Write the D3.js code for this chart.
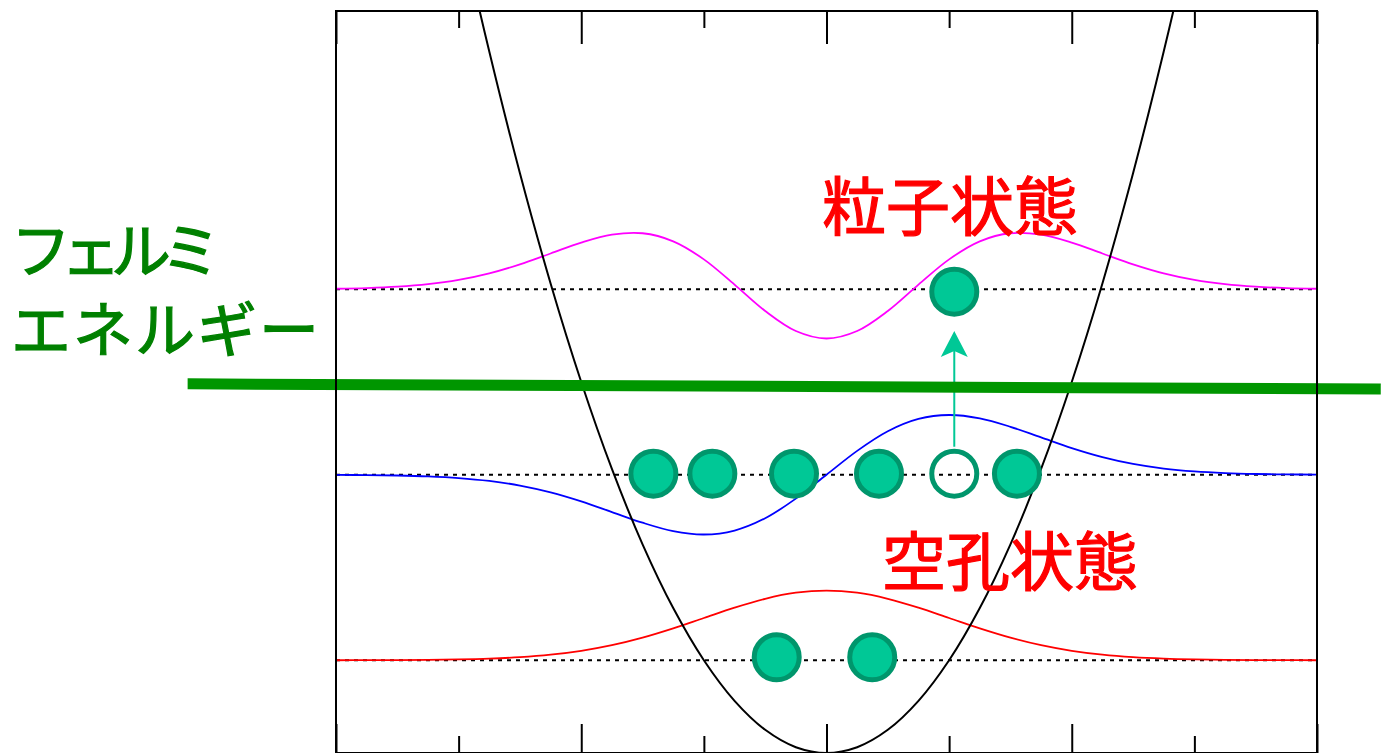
<!DOCTYPE html>
<html>
<head>
<meta charset="utf-8">
<script src="https://cdn.jsdelivr.net/npm/d3@7"></script>
<style>
  html, body { margin: 0; padding: 0; background: #fff; }
  svg { display: block; }
</style>
</head>
<body>
<svg id="chart" width="1381" height="753"></svg>
<script>
// ---------------- data ----------------
const xSamples = [-4,-3.75,-3.5,-3.25,-3,-2.75,-2.5,-2.25,-2,-1.75,-1.5,-1.25,-1,-0.75,-0.5,-0.25,0,
                  0.25,0.5,0.75,1,1.25,1.5,1.75,2,2.25,2.5,2.75,3,3.25,3.5,3.75,4];
const potential = [8,7.03125,6.125,5.28125,4.5,3.78125,3.125,2.53125,2,1.53125,1.125,0.78125,0.5,0.28125,0.125,0.03125,0,
                   0.03125,0.125,0.28125,0.5,0.78125,1.125,1.53125,2,2.53125,3.125,3.78125,4.5,5.28125,6.125,7.03125,8];
const levels = [0.5, 1.5, 2.5];
const wave0 = [0.0001,0.0003,0.0008,0.0019,0.0042,0.0086,0.0165,0.0299,0.0508,0.0812,0.1219,0.1719,0.2278,0.2835,0.3314,0.3640,0.3756,
               0.3640,0.3314,0.2835,0.2278,0.1719,0.1219,0.0812,0.0508,0.0299,0.0165,0.0086,0.0042,0.0019,0.0008,0.0003,0.0001];
const wave1 = [-0.0007,-0.0018,-0.0041,-0.0088,-0.0177,-0.0333,-0.0583,-0.0951,-0.1438,-0.2010,-0.2586,-0.3040,-0.3221,-0.3007,-0.2344,-0.1287,0,
               0.1287,0.2344,0.3007,0.3221,0.3040,0.2586,0.2010,0.1438,0.0951,0.0583,0.0333,0.0177,0.0088,0.0041,0.0018,0.0007];
const wave2 = [0.0028,0.0064,0.0137,0.0272,0.0502,0.0855,0.1342,0.1928,0.2516,0.2943,0.3018,0.2584,0.1611,0.0251,-0.1172,-0.2252,-0.2656,
               -0.2252,-0.1172,0.0251,0.1611,0.2584,0.3018,0.2943,0.2516,0.1928,0.1342,0.0855,0.0502,0.0272,0.0137,0.0064,0.0028];
const waveColors = ["#ff0000", "#0000ff", "#ff00ff"];
const majorTicks = [-4,-2,0,2,4];
const minorTicks = [-3,-1,1,3];
const fermiX = [-5.21, 4.52];
const fermiY = [1.99, 1.962];
const electronX = [-0.406, 0.373, -1.412, -0.931, -0.265, 0.428, 1.553, 1.042];
const electronY = [0.516, 0.516, 1.506, 1.506, 1.506, 1.506, 1.506, 2.487];
const holeX = [1.042];
const holeY = [1.506];
const arrowX = [1.042, 1.042];
const arrowY = [1.651, 2.275];
const fermiLabel = ["フェルミ", "エネルギー"];
const particleLabel = "粒子状態";
const holeLabel = "空孔状態";

// ---------------- layout ----------------
const svg = d3.select("#chart");
const pLeft = 336, pRight = 1317, pTop = 11, pBottom = 753;
const x = d3.scaleLinear().domain([-4, 4]).range([pLeft, pRight]);
const y = d3.scaleLinear().domain([0, 4]).range([pBottom, pTop]);

svg.append("defs").append("clipPath").attr("id", "plotClip")
  .append("rect").attr("x", pLeft).attr("y", pTop).attr("width", pRight - pLeft).attr("height", pBottom - pTop);

const plot = svg.append("g").attr("clip-path", "url(#plotClip)");

// dotted energy levels
plot.selectAll("line.level").data(levels).enter().append("line")
  .attr("class", "level")
  .attr("x1", x(-4)).attr("x2", x(4))
  .attr("y1", d => y(d)).attr("y2", d => y(d))
  .attr("stroke", "#000").attr("stroke-width", 2).attr("stroke-dasharray", "4,5");

// wave functions
const waves = [wave0, wave1, wave2];
const line = d3.line().x(d => x(d[0])).y(d => y(d[1])).curve(d3.curveCatmullRom.alpha(0.5));
waves.forEach((w, i) => {
  const pts = xSamples.map((xv, j) => [xv, levels[i] + w[j]]);
  plot.append("path").attr("d", line(pts)).attr("fill", "none")
    .attr("stroke", waveColors[i]).attr("stroke-width", 1.8);
});

// potential
plot.append("path").attr("d", line(xSamples.map((xv, j) => [xv, potential[j]])))
  .attr("fill", "none").attr("stroke", "#000").attr("stroke-width", 2);

// arrow (excitation)
const ax = x(arrowX[0]), ay0 = y(arrowY[0]), ay1 = y(arrowY[1]);
svg.append("line").attr("x1", ax).attr("x2", ax).attr("y1", ay0).attr("y2", ay1 + 18)
  .attr("stroke", "#00c896").attr("stroke-width", 2);
svg.append("path")
  .attr("d", `M${ax},${ay1} L${ax + 13.5},${ay1 + 26} L${ax},${ay1 + 20} L${ax - 13.5},${ay1 + 26} Z`)
  .attr("fill", "#00c896");

// Fermi level
svg.append("line")
  .attr("x1", x(fermiX[0])).attr("y1", y(fermiY[0]))
  .attr("x2", x(fermiX[1])).attr("y2", y(fermiY[1]))
  .attr("stroke", "#009600").attr("stroke-width", 11);

// frame + ticks
svg.append("rect").attr("x", pLeft).attr("y", pTop).attr("width", pRight - pLeft).attr("height", pBottom - pTop)
  .attr("fill", "none").attr("stroke", "#000").attr("stroke-width", 2);

function tickAxis(gen, vals, size, ty) {
  const g = svg.append("g").attr("transform", `translate(0,${ty})`)
    .call(gen(x).tickValues(vals).tickSizeInner(size).tickSizeOuter(0).tickFormat(""));
  g.select(".domain").remove();
  g.selectAll(".tick line").attr("stroke", "#000").attr("stroke-width", 2);
}
tickAxis(d3.axisTop, majorTicks, -33, pTop);
tickAxis(d3.axisTop, minorTicks, -17, pTop);
tickAxis(d3.axisBottom, majorTicks, -29, pBottom);
tickAxis(d3.axisBottom, minorTicks, -17, pBottom);

// electrons
svg.selectAll("circle.electron").data(electronX).enter().append("circle")
  .attr("class", "electron")
  .attr("cx", d => x(d)).attr("cy", (d, i) => y(electronY[i])).attr("r", 22.5)
  .attr("fill", "#00c896").attr("stroke", "#00966c").attr("stroke-width", 5);
svg.selectAll("circle.hole").data(holeX).enter().append("circle")
  .attr("class", "hole")
  .attr("cx", d => x(d)).attr("cy", (d, i) => y(holeY[i])).attr("r", 22.5)
  .attr("fill", "none").attr("stroke", "#00966c").attr("stroke-width", 5);

// labels
const font = "'Noto Sans CJK JP', sans-serif";
const fermiLen = [210, 308];
svg.selectAll("text.fermi").data(fermiLabel).enter().append("text")
  .attr("class", "fermi")
  .attr("x", 11).attr("y", (d, i) => 273 + i * 79)
  .attr("textLength", (d, i) => fermiLen[i]).attr("lengthAdjust", "spacing")
  .attr("font-family", font).attr("font-size", 60).attr("fill", "#008000")
  .attr("stroke", "#008000").attr("stroke-width", 1.2)
  .text(d => d);
svg.append("text").attr("x", 822).attr("y", 230)
  .attr("font-family", font).attr("font-size", 64).attr("fill", "#ff0000")
  .attr("stroke", "#ff0000").attr("stroke-width", 1.2).text(particleLabel);
svg.append("text").attr("x", 882).attr("y", 585)
  .attr("font-family", font).attr("font-size", 64).attr("fill", "#ff0000")
  .attr("stroke", "#ff0000").attr("stroke-width", 1.2).text(holeLabel);
</script>
</body>
</html>
